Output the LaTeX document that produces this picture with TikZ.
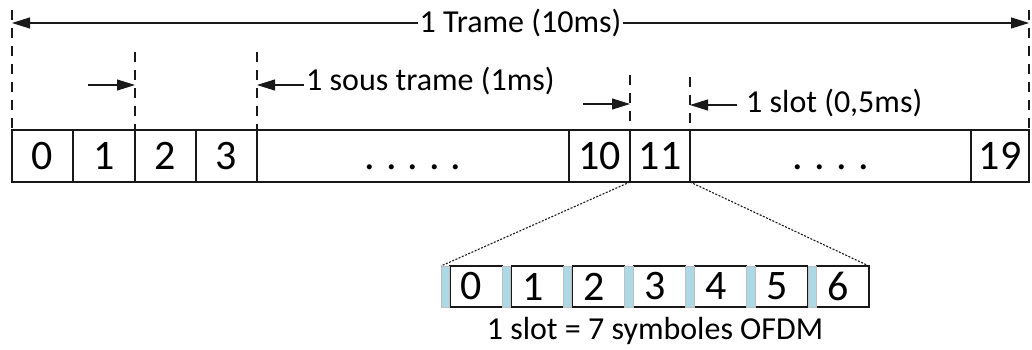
\documentclass[tikz,border=0pt]{standalone}
\usepackage{fontspec}
\setmainfont{Carlito}
\usetikzlibrary{arrows.meta}
\definecolor{stripblue}{RGB}{173,216,230}
\definecolor{linecol}{RGB}{25,25,25}
\begin{document}
\begin{tikzpicture}[x=1pt,y=-1pt,
  cell/.style={draw=linecol, line width=1.1pt, minimum height=52pt, inner sep=0pt, outer sep=0pt,
    anchor=north west, font=\fontsize{42}{44}\selectfont},
  scell/.style={minimum height=41pt, minimum width=61.14pt, inner sep=0pt, outer sep=0pt,
    anchor=north west, font=\fontsize{42}{44}\selectfont},
  box/.style={draw=linecol, line width=1.1pt},
  strip/.style={fill=stripblue, draw=gray!50, line width=0.6pt},
  vdash/.style={draw=linecol, line width=1.3pt, dash pattern=on 10pt off 8pt},
  arr/.style={draw=linecol, line width=1.1pt, -{Triangle[length=18pt,width=11pt]}},
  darr/.style={draw=linecol, line width=1.1pt, {Triangle[length=18pt,width=11pt]}-{Triangle[length=18pt,width=11pt]}},
  lbl/.style={font=\fontsize{32}{38}\selectfont, inner sep=2pt},
  zoomline/.style={draw=linecol, line width=1.1pt, dash pattern=on 2pt off 1.5pt}
]
\useasboundingbox (0,0) rectangle (1032,350);

% main frame cells
\node[cell, minimum width=61pt] (c0) at (12,130) {0};
\node[cell, minimum width=62pt] (c1) at (73,130) {1};
\node[cell, minimum width=61pt] (c2) at (135,130) {2};
\node[cell, minimum width=61pt] (c3) at (196,130) {3};
\node[cell, minimum width=312pt] (cd1) at (257,130) {\vphantom{0}.\hspace{11pt}.\hspace{11pt}.\hspace{11pt}.\hspace{11pt}.};
\node[cell, minimum width=61pt] (c10) at (569,130) {10};
\node[cell, minimum width=60pt] (c11) at (630,130) {11};
\node[cell, minimum width=281pt] (cd2) at (690,130) {\vphantom{0}.\hspace{11.5pt}.\hspace{11.5pt}.\hspace{11.5pt}.};
\node[cell, minimum width=58pt] (c19) at (971,130) {19};

% dashed markers
\coordinate (d0) at (12,10);
\coordinate (d2) at (135,52);
\coordinate (d4) at (257,52);
\coordinate (d11) at (630,75);
\coordinate (d12) at (690,77);
\coordinate (d19) at (1029,10);
\draw[vdash] (d0) -- (c0.north west);
\draw[vdash] (d2) -- (c2.north west);
\draw[vdash] (d4) -- (cd1.north west);
\draw[vdash] (d11) -- (c11.north west);
\draw[vdash] (d12) -- (cd2.north west);
\draw[vdash] (d19) -- (c19.north east);

% top arrow
\coordinate (aL) at (12,23);
\coordinate (aR) at (1029,23);
\draw[darr] (aL) -- (aR) node[midway, lbl, fill=white] (tl) {1 Trame (10ms)};

% sub-frame arrows
\coordinate (s1) at (88,85);
\draw[arr] (s1) -- (s1 -| c2.north west);
\coordinate (s2) at (304,85);
\draw[arr] (s2) -- (s2 -| cd1.north west);
\node[lbl, anchor=west] (lsub) at (304,81) {1 sous trame (1ms)};
\coordinate (s3) at (583,104);
\draw[arr] (s3) -- (s3 -| c11.north west);
\coordinate (s4) at (737,105);
\draw[arr] (s4) -- (s4 -| cd2.north west);
\node[lbl, anchor=west] (lslot) at (744,103) {1 slot (0,5ms)};

% OFDM symbols
\foreach \i in {0,...,6} {
  \node[scell] (s\i) at ({441+61.14*\i},266) {\i};
  \draw[box] ([xshift=9pt]s\i.north west) rectangle (s\i.south east);
  \draw[strip] (s\i.north west) rectangle ([xshift=8.5pt]s\i.south west);
}
\draw[zoomline] (c11.south west) -- (s0.north west);
\draw[zoomline] (c11.south east) -- (s6.north east);
\node[lbl] (lofdm) at (655,331) {1 slot = 7 symboles OFDM};
\end{tikzpicture}
\end{document}
